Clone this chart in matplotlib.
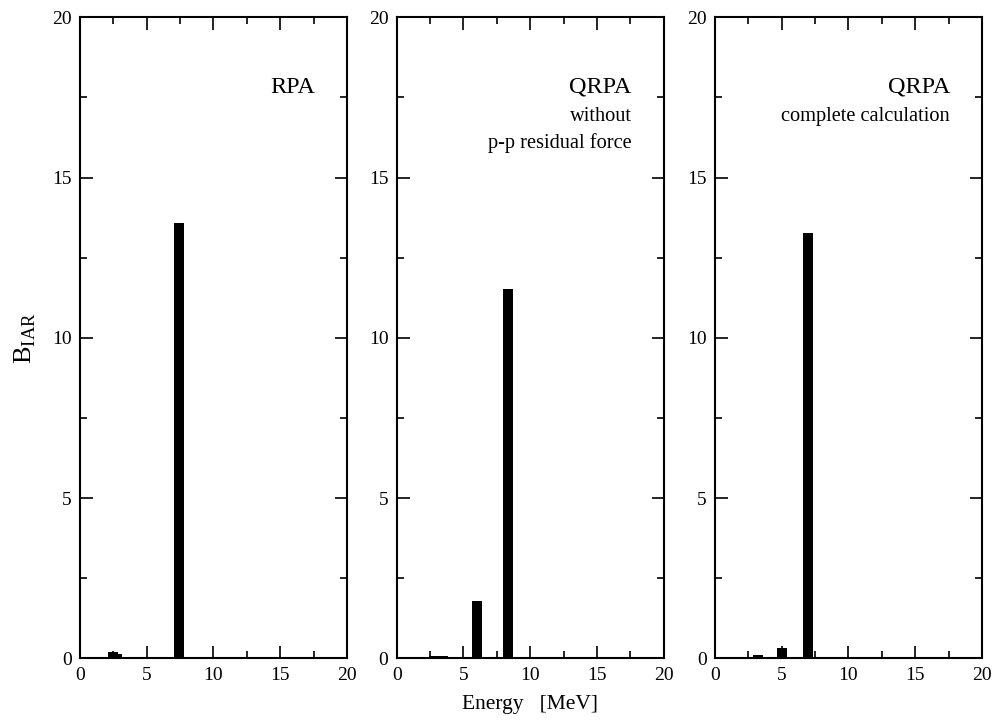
import matplotlib
matplotlib.use("Agg")
import matplotlib.pyplot as plt
from matplotlib.ticker import MultipleLocator

plt.rcParams['font.family'] = ['Liberation Serif', 'DejaVu Serif']
plt.rcParams['mathtext.fontset'] = 'custom'
plt.rcParams['mathtext.rm'] = 'Liberation Serif'

# strength distributions (energy in MeV, B_IAR)
rpa_e = [2.5, 2.8, 7.4, 11.6, 15.5, 16.2, 18.9]
rpa_b = [0.20, 0.13, 13.57, 0.03, 0.02, 0.02, 0.01]

qrpa_nopp_e = [2.8, 3.5, 6.0, 8.33, 10.0, 11.8, 13.8, 14.6, 15.8, 17.3, 18.6, 19.4]
qrpa_nopp_b = [0.07, 0.07, 1.80, 11.52, 0.03, 0.02, 0.01, 0.02, 0.03, 0.05, 0.02, 0.02]

qrpa_full_e = [3.25, 5.05, 7.0, 10.4, 11.8, 13.5, 15.7, 16.7, 18.8]
qrpa_full_b = [0.09, 0.33, 13.27, 0.01, 0.02, 0.01, 0.03, 0.02, 0.01]

panels = [
    (rpa_e, rpa_b, ["RPA"]),
    (qrpa_nopp_e, qrpa_nopp_b, ["QRPA", "without", "p-p residual force"]),
    (qrpa_full_e, qrpa_full_b, ["QRPA", "complete calculation"]),
]
lefts = [0.0803, 0.3983, 0.7179]
ticks = [0, 5, 10, 15, 20]

fig = plt.figure(figsize=(9.96, 7.21), dpi=100)

for i, (e, b, label) in enumerate(panels):
    ax = fig.add_axes([lefts[i], 0.087, 0.268, 0.889])
    ax.bar(e, b, width=0.75, color='black', align='center')
    ax.set_xlim(0, 20)
    ax.set_ylim(0, 20)
    ax.set_xticks(ticks)
    ax.set_yticks(ticks)
    ax.xaxis.set_minor_locator(MultipleLocator(2.5))
    ax.yaxis.set_minor_locator(MultipleLocator(2.5))
    ax.tick_params(which='both', direction='in', top=True, right=True,
                   labelsize=14, width=1.2, pad=6)
    ax.tick_params(which='major', length=9)
    ax.tick_params(which='minor', length=5)
    for s in ax.spines.values():
        s.set_linewidth(1.5)

    # annotation block in the upper right corner
    ax.text(0.88, 0.882, label[0], transform=ax.transAxes,
            ha='right', va='baseline', fontsize=17.5)
    for j, line in enumerate(label[1:]):
        ax.text(0.88, 0.838 - 0.042 * j, line, transform=ax.transAxes,
                ha='right', va='baseline', fontsize=14.7)

    if i == 0:
        ax.set_ylabel(r'$\mathrm{B}_{\mathrm{IAR}}$', fontsize=19, labelpad=10)
    if i == 1:
        ax.set_xlabel('Energy   [MeV]', fontsize=15.5, labelpad=8)

fig.savefig('out.png', dpi=100)
